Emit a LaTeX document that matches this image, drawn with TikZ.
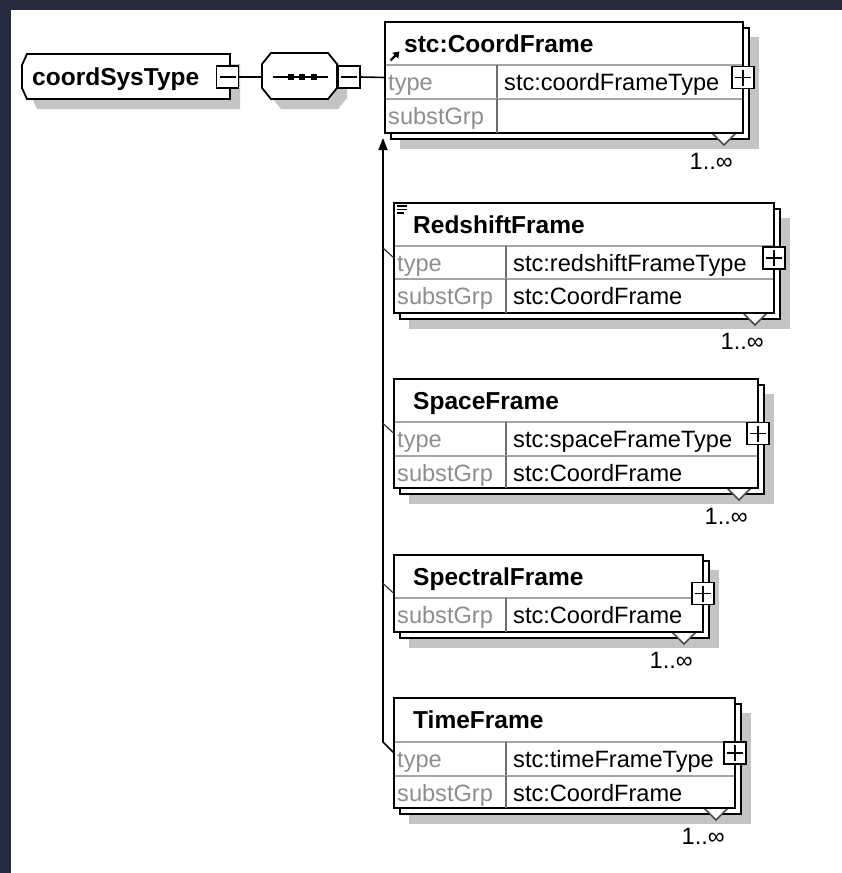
\documentclass[tikz,border=0pt]{standalone}
\usepackage{fontspec}
\setmainfont{Liberation Sans}
\usetikzlibrary{arrows.meta}

\definecolor{navy}{HTML}{252A3F}
\definecolor{shadowgray}{HTML}{C4C4C4}
\definecolor{sepgray}{HTML}{A4A4A4}
\definecolor{divgray}{HTML}{6E6E6E}
\definecolor{trigray}{HTML}{4A4A4A}
\definecolor{lblgray}{HTML}{8E8E8E}

\tikzset{
  outline/.style={draw=black, line width=1.8pt},
  frontbox/.style={outline, fill=white, rectangle, inner sep=0pt, outer sep=0pt},
  title/.style={font=\fontsize{24.5}{28}\selectfont\bfseries, inner sep=0pt},
  lbl/.style={font=\fontsize{23.6}{28}\selectfont, text=lblgray, inner sep=0pt},
  val/.style={font=\fontsize{23.6}{28}\selectfont, inner sep=0pt},
  mult/.style={font=\fontsize{23.6}{28}\selectfont, inner sep=0pt},
  rowsep/.style={draw=sepgray, line width=1.3pt},
  colsep/.style={draw=divgray, line width=1.3pt},
  tri/.style={draw=trigray, line width=1.5pt, fill=white},
  smallbox/.style={draw=black, line width=1.7pt, fill=white, rectangle,
    minimum width=22pt, minimum height=22pt, inner sep=0pt, outer sep=0pt},
  minusbox/.style={smallbox, path picture={
    \draw[line width=1.7pt] ([xshift=3pt]path picture bounding box.west)
      -- ([xshift=-3pt]path picture bounding box.east);}},
  plusbox/.style={smallbox, path picture={
    \draw[line width=1.8pt] ([xshift=3pt]path picture bounding box.west)
      -- ([xshift=-3pt]path picture bounding box.east);
    \draw[line width=1.8pt] ([yshift=-3pt]path picture bounding box.north)
      -- ([yshift=3pt]path picture bounding box.south);}},
  link/.style={draw=black, line width=1.6pt},
  stub/.style={draw=black!80, line width=1.2pt},
}

% element box with stacked copy, shadow, occurrence marker and title
% #1 name, #2 x, #3 y, #4 width, #5 height, #6 title
\newcommand\xsdframe[6]{%
  \fill[shadowgray] (#2+15,#3+15) rectangle (#2+#4+16,#3+#5+16);
  \draw[outline, fill=white] (#2+6,#3+6) rectangle (#2+#4+6,#3+#5+6);
  \draw[tri] (#2+#4-31,#3+#5) -- (#2+#4-19,#3+#5+12) -- (#2+#4-7,#3+#5);
  \node[frontbox, minimum width=#4pt, minimum height=#5pt, anchor=north west] (#1) at (#2,#3) {};
  \node[title, anchor=base west] (#1-t) at (#2+19,#3+30) {#6};
  \node[mult, anchor=base east] (#1-m) at (#2+#4-10,#3+#5+36) {1..∞};
}

% attribute row inside an element box
% #1 name, #2 x, #3 row top, #4 width, #5 row height, #6 label, #7 value
\newcommand\xsdrow[7]{%
  \draw[rowsep] (#2+1,#3) -- (#2+#4-1,#3);
  \draw[colsep] (#2+112,#3) -- (#2+112,#3+#5);
  \node[lbl, anchor=base west] (#1-l) at (#2+3,#3+25) {#6};
  \node[val, anchor=base west] (#1-v) at (#2+119,#3+25) {#7};
}

\begin{document}
\begin{tikzpicture}[x=1pt,y=-1pt]
\useasboundingbox (0,0) rectangle (842,873);
\fill[navy] (0,0) rectangle (842,873);
\fill[white] (11,10) rectangle (842,873);

% complex type root
\fill[shadowgray] (37,64) -- (240,64) -- (240,109) -- (37,109) -- (32,98) -- (32,75) -- cycle;
\draw[outline, fill=white] (27,54) -- (230,54) -- (230,99) -- (27,99) -- (22,88) -- (22,65) -- cycle;
\node[title, anchor=base west] (cst) at (32,85) {coordSysType};
\node[minusbox] (cstm) at (227.5,77) {};

% sequence compositor
\fill[shadowgray] (281,63) -- (338,63) -- (347,74) -- (347,98) -- (338,109) -- (281,109) -- (272,98) -- (272,74) -- cycle;
\draw[outline, fill=white] (271,53) -- (328,53) -- (337,64) -- (337,88) -- (328,99) -- (271,99) -- (262,88) -- (262,64) -- cycle;
\coordinate (seqw) at (262,77);
\draw[line width=1.6pt] (273,77) -- (328,77);
\foreach \d in {291,302,314} \fill (\d-3,74) rectangle (\d+3,80);
\node[minusbox] (seqm) at (349,77) {};

% head of the substitution group
\xsdframe{coord}{385}{22}{358}{111}{stc:CoordFrame}
\xsdrow{coordty}{385}{65}{358}{34}{type}{stc:coordFrameType}
\xsdrow{coordsg}{385}{99}{358}{34}{substGrp}{}
\draw[line width=2.4pt, -{Triangle[width=8pt,length=6pt]}] (390.5,60.5) -- (399.5,51.5);

% substitution group members
\xsdframe{redshift}{394}{203}{380}{110}{RedshiftFrame}
\xsdrow{redshiftty}{394}{246}{380}{33}{type}{stc:redshiftFrameType}
\xsdrow{redshiftsg}{394}{279}{380}{34}{substGrp}{stc:CoordFrame}
\foreach \yy/\xx in {206/407,209.5/407,213/404} \draw[line width=1.7pt] (397,\yy) -- (\xx,\yy);

\xsdframe{space}{394}{379}{364}{109}{SpaceFrame}
\xsdrow{spacety}{394}{422}{364}{34}{type}{stc:spaceFrameType}
\xsdrow{spacesg}{394}{456}{364}{32}{substGrp}{stc:CoordFrame}

\xsdframe{spectral}{394}{555}{309}{77}{SpectralFrame}
\xsdrow{spectralsg}{394}{598}{309}{34}{substGrp}{stc:CoordFrame}

\xsdframe{time}{394}{698}{341}{110}{TimeFrame}
\xsdrow{timety}{394}{742}{341}{34}{type}{stc:timeFrameType}
\xsdrow{timesg}{394}{776}{341}{32}{substGrp}{stc:CoordFrame}

% expand buttons
\foreach \n in {coord,redshift,space,spectral,time}
  \node[plusbox] (\n-p) at (\n.east) {};

% connectors
\draw[link] (cstm.east) -- (seqw);
\draw[link] (seqm.east) -- (coord.west);
\coordinate (bustop) at (383,138);
\coordinate (busbot) at (383,742);
\coordinate (tapr) at (383,248);
\coordinate (taps) at (383,423.5);
\coordinate (tapp) at (383,583.5);
\draw[link, -{Triangle[width=9pt,length=12pt]}] (time.west) -- (busbot) -- (bustop);
\draw[stub] (tapr) -- (redshift.west);
\draw[stub] (taps) -- (space.west);
\draw[stub] (tapp) -- (spectral.west);
\end{tikzpicture}
\end{document}
